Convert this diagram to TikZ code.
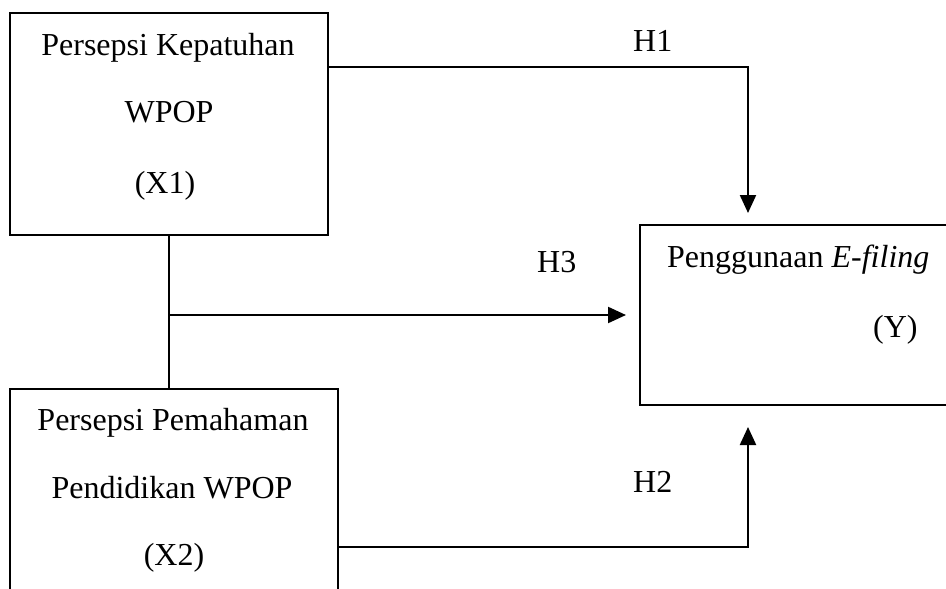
\documentclass[tikz,border=0pt]{standalone}
\usepackage{fontspec}
\setmainfont{Liberation Serif}
\usetikzlibrary{arrows.meta}
\begin{document}
\begin{tikzpicture}[x=1pt,y=-1pt,
  boxline/.style={draw=black,line width=2pt,rectangle,inner sep=0pt},
  conn/.style={draw=black,line width=2.2pt},
  arr/.style={conn,-{Triangle[width=16pt,length=18pt]}},
  txt/.style={inner sep=0pt,font=\fontsize{32}{38}\selectfont},
  txtc/.style={txt,anchor=base},
  txtl/.style={txt,anchor=base west}]
\useasboundingbox (0,0) rectangle (946,589);
% boxes
\node[boxline,minimum width=318pt,minimum height=222pt] (b1) at (169,124) {};
\node[boxline,minimum width=328pt,minimum height=231pt] (b2) at (174,504.5) {};
\node[boxline,minimum width=320pt,minimum height=180pt] (by) at (800,315) {};
% texts
\node[txtc] (t11) at (168,55) {Persepsi Kepatuhan};
\node[txtc] (t12) at (169,122) {WPOP};
\node[txtc] (t13) at (165,193) {(X1)};
\node[txtc] (t21) at (173,430) {Persepsi Pemahaman};
\node[txtc] (t22) at (172,498) {Pendidikan WPOP};
\node[txtc] (t23) at (174,565) {(X2)};
\node[txtl] (ty1) at (667,267) {Penggunaan \textit{E-filing}};
\node[txtl] (ty2) at (873,337) {(Y)};
\node[txtl] (h1) at (633,51) {H1};
\node[txtl] (h3) at (537,272) {H3};
\node[txtl] (h2) at (633,492) {H2};
% connector points
\coordinate (c1) at (748,67);
\coordinate (e1) at (748,213);
\coordinate (c2) at (748,547);
\coordinate (e2) at (748,427);
\coordinate (j) at (169,315);
\coordinate (e3) at (626,315);
% connectors
\draw[arr] (b1.east |- c1) -- (c1) -- (e1);
\draw[arr] (b2.east |- c2) -- (c2) -- (e2);
\draw[conn] (b1.south) -- (b2.north -| b1.south);
\draw[arr] (j) -- (e3);
\end{tikzpicture}
\end{document}
